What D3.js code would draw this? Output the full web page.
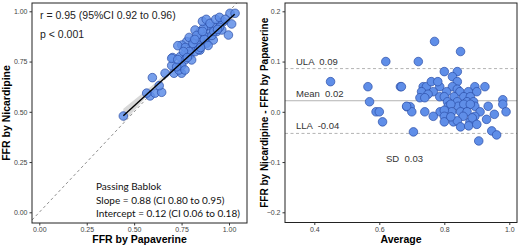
<!DOCTYPE html>
<html>
<head>
<meta charset="utf-8">
<script src="https://cdn.jsdelivr.net/npm/d3@7"></script>
<style>
  body { margin: 0; background: #fff; }
  svg { display: block; }
</style>
</head>
<body>
<svg id="chart" width="520" height="248"></svg>
<script>
// Scatter: FFR by Papaverine (x) vs FFR by Nicardipine (y)
var papaverine = [0.443, 0.596, 0.584, 0.61, 0.645, 0.632, 0.566, 0.663, 0.71, 0.75, 0.736, 0.703, 0.698, 0.742,
  1.005, 1.032, 1.014, 0.970, 0.953, 0.917, 0.891, 0.865, 0.847, 0.821, 0.900, 0.935, 0.962, 0.997,
  0.874, 0.847, 0.812, 0.777, 0.751, 0.730, 0.803, 0.838, 0.882, 0.917, 0.768, 0.794, 0.821, 0.847,
  0.742, 0.768, 0.803, 0.698, 0.751, 0.724, 0.768,
  0.86, 0.88, 0.90, 0.93, 0.95, 0.79, 0.83, 0.87, 0.91, 0.77, 0.81, 0.84, 0.89, 0.95, 0.98, 0.86, 0.79, 0.82,
  0.76, 0.78, 0.85, 0.92, 0.94, 0.73];
var nicardipine = [0.479, 0.67, 0.579, 0.593, 0.597, 0.63, 0.593, 0.692, 0.692, 0.692, 0.708, 0.77, 0.73, 0.73,
  0.990, 0.990, 0.937, 0.948, 0.943, 0.923, 0.927, 0.915, 0.899, 0.907, 0.891, 0.899, 0.907, 0.882,
  0.874, 0.866, 0.857, 0.849, 0.832, 0.829, 0.824, 0.832, 0.841, 0.857, 0.791, 0.783, 0.799, 0.807,
  0.774, 0.758, 0.758, 0.766, 0.730, 0.724, 0.708,
  0.95, 0.96, 0.94, 0.96, 0.97, 0.87, 0.88, 0.86, 0.88, 0.82, 0.84, 0.81, 0.83, 0.92, 0.96, 0.90, 0.80, 0.86,
  0.80, 0.77, 0.82, 0.90, 0.91, 0.76];

// fitted line and its grey confidence band
var fitX = [0.443, 1.03];
var fitY = [0.48, 0.985];
var bandX = [0.443, 0.6, 0.75, 0.9, 1.03];
var bandLo = [0.445, 0.612, 0.745, 0.872, 0.97];
var bandHi = [0.515, 0.635, 0.760, 0.887, 1.0];

// Bland-Altman: average (x) and difference (y)
var baAverage = [0.45, 0.565, 0.57, 0.59, 0.60, 0.61, 0.62, 0.665, 0.685, 0.695, 0.70, 0.705, 0.72, 0.906, 0.946, 0.961,
  0.77, 0.85, 0.80, 0.84, 0.825, 0.84,
  0.668, 0.735, 0.745, 0.786, 0.825, 0.894, 0.925,
  0.76, 0.78, 0.84,
  0.73, 0.766, 0.807, 0.848, 0.874, 0.9, 0.75,
  0.725, 0.74, 0.786, 0.80, 0.83, 0.86, 0.88, 0.98,
  0.81, 0.84, 0.87, 0.89, 0.98,
  0.684, 0.812, 0.843, 0.869, 0.894, 0.935, 0.82, 0.86, 0.88,
  0.74, 0.787, 0.823, 0.85, 0.87, 0.91, 0.99, 0.80,
  0.766, 0.80, 0.858, 0.894, 0.954,
  0.80, 0.828, 0.879, 0.886, 0.84,
  0.85, 0.875, 0.82, 0.90, 0.93];
var baDiff = [0.06, 0.05, 0.02, 0.0, 0.0, -0.02, 0.10, 0.05, 0.01, 0.01, 0.0, -0.04, 0.10, -0.058, -0.038, -0.046,
  0.14, 0.12, 0.08, 0.08, 0.07, 0.06,
  0.05, 0.05, 0.05, 0.05, 0.05, 0.05, 0.05,
  0.06, 0.06, 0.045,
  0.04, 0.04, 0.04, 0.04, 0.04, 0.04, 0.035,
  0.028, 0.028, 0.03, 0.03, 0.03, 0.03, 0.03, 0.024,
  0.02, 0.02, 0.02, 0.02, 0.015,
  0.011, 0.011, 0.011, 0.011, 0.011, 0.011, 0.015, 0.015, 0.015,
  0.0, 0.0, 0.0, 0.0, 0.0, 0.0, 0.0, 0.003,
  -0.009, -0.009, -0.009, -0.009, -0.005,
  -0.02, -0.02, -0.02, -0.012, -0.018,
  -0.03, -0.028, -0.01, -0.025, -0.015];

var baLimits = [
  { name: 'ULA', value: 0.086, label: '0.09', dash: true },
  { name: 'Mean', value: 0.022, label: '0.02', dash: false },
  { name: 'LLA', value: -0.043, label: '-0.04', dash: true }
];

var ticksLeft = [0, 0.25, 0.5, 0.75, 1];
var ticksRightX = [0.4, 0.6, 0.8, 1.0];
var ticksRightY = [-0.2, -0.1, 0, 0.1, 0.2];

var svg = d3.select('#chart');
var fill = '#5f8ee8', stroke = '#2b4ea6';
var baseFont = 'Liberation Sans, Arial, sans-serif';

// ---------- left panel ----------
var L = { left: 32, right: 247, top: 3, bottom: 223 };
var xL = d3.scaleLinear().domain([0, 1]).range([39.3, 229]);
var yL = d3.scaleLinear().domain([0, 1]).range([212.3, 11.3]);

var gL = svg.append('g');
gL.append('clipPath').attr('id', 'clipL').append('rect')
  .attr('x', L.left).attr('y', L.top).attr('width', L.right - L.left).attr('height', L.bottom - L.top);

var lo = xL.invert(L.left), hi = xL.invert(L.right);
gL.append('line')
  .attr('clip-path', 'url(#clipL)')
  .attr('x1', xL(lo)).attr('y1', yL(lo)).attr('x2', xL(hi)).attr('y2', yL(hi))
  .attr('stroke', '#888').attr('stroke-width', 0.9).attr('stroke-dasharray', '3,2.5');

var band = bandX.map(function (d, i) { return { x: d, lo: bandLo[i], hi: bandHi[i] }; });
gL.append('path').datum(band)
  .attr('fill', '#d0d0d0').attr('opacity', 0.8)
  .attr('d', d3.area().x(function (d) { return xL(d.x); })
    .y0(function (d) { return yL(d.lo); }).y1(function (d) { return yL(d.hi); }));

gL.selectAll('.pt').data(papaverine).enter().append('circle')
  .attr('cx', function (d) { return xL(d); })
  .attr('cy', function (d, i) { return yL(nicardipine[i]); })
  .attr('r', 4.3)
  .attr('fill', fill).attr('fill-opacity', 0.85)
  .attr('stroke', stroke).attr('stroke-width', 0.7);

gL.append('line')
  .attr('x1', xL(fitX[0])).attr('y1', yL(fitY[0])).attr('x2', xL(fitX[1])).attr('y2', yL(fitY[1]))
  .attr('stroke', '#000').attr('stroke-width', 1.4);

gL.append('rect')
  .attr('x', L.left).attr('y', L.top).attr('width', L.right - L.left).attr('height', L.bottom - L.top)
  .attr('fill', 'none').attr('stroke', '#222').attr('stroke-width', 1);

gL.append('g').attr('transform', 'translate(0,' + L.bottom + ')')
  .call(d3.axisBottom(xL).tickValues(ticksLeft).tickFormat(d3.format('.2f')).tickSize(2.5).tickPadding(2))
  .call(function (g) { g.select('.domain').remove(); });
gL.append('g').attr('transform', 'translate(' + L.left + ',0)')
  .call(d3.axisLeft(yL).tickValues(ticksLeft).tickFormat(d3.format('.2f')).tickSize(2.5).tickPadding(2))
  .call(function (g) { g.select('.domain').remove(); });

gL.append('text').attr('x', 40).attr('y', 19).text('r = 0.95 (95%CI 0.92 to 0.96)')
  .attr('font-family', baseFont).attr('font-size', 10.5).attr('fill', '#222');
gL.append('text').attr('x', 40).attr('y', 38).text('p < 0.001')
  .attr('font-family', baseFont).attr('font-size', 10.5).attr('fill', '#222');

var pbLines = ['Passing Bablok', 'Slope = 0.88 (CI 0.80 to 0.95)', 'Intercept = 0.12 (CI 0.06 to 0.18)'];
gL.selectAll('.pb').data(pbLines).enter().append('text')
  .attr('x', 96).attr('y', function (d, i) { return 190 + i * 13.5; })
  .text(function (d) { return d; })
  .attr('font-family', 'Lato, Open Sans, sans-serif').attr('font-size', 10).attr('fill', '#111');

gL.append('text').attr('x', (L.left + L.right) / 2).attr('y', 243).attr('text-anchor', 'middle')
  .text('FFR by Papaverine').attr('font-family', baseFont).attr('font-weight', 'bold').attr('font-size', 10.5);
gL.append('text').attr('transform', 'translate(10,' + (L.top + L.bottom) / 2 + ') rotate(-90)')
  .attr('text-anchor', 'middle')
  .text('FFR by Nicardipine').attr('font-family', baseFont).attr('font-weight', 'bold').attr('font-size', 10.5);

// ---------- right panel ----------
var R = { left: 285, right: 517, top: 3, bottom: 222.5 };
var xR = d3.scaleLinear().domain([0.4, 1.0]).range([314.3, 509.3]);
var yR = d3.scaleLinear().domain([-0.2, 0.2]).range([212.3, 11.3]);

var gR = svg.append('g');

gR.selectAll('.lim').data(baLimits).enter().append('line')
  .attr('x1', R.left).attr('x2', R.right)
  .attr('y1', function (d) { return yR(d.value); }).attr('y2', function (d) { return yR(d.value); })
  .attr('stroke', '#aaa').attr('stroke-width', 0.9)
  .attr('stroke-dasharray', function (d) { return d.dash ? '3,2.5' : null; });

gR.selectAll('.pt').data(baAverage).enter().append('circle')
  .attr('cx', function (d) { return xR(d); })
  .attr('cy', function (d, i) { return yR(baDiff[i]); })
  .attr('r', 4.3)
  .attr('fill', fill).attr('stroke', stroke).attr('stroke-width', 0.7);

gR.selectAll('.limtext').data(baLimits).enter().append('text')
  .attr('x', 296).attr('y', function (d) { return yR(d.value) - 4; })
  .text(function (d) { return d.name + '  ' + d.label; })
  .attr('xml:space', 'preserve')
  .attr('font-family', baseFont).attr('font-size', 9.5).attr('fill', '#333');

gR.append('text').attr('x', 386).attr('y', 162).attr('xml:space', 'preserve').text('SD  0.03')
  .attr('font-family', baseFont).attr('font-size', 9.5).attr('fill', '#333');

gR.append('rect')
  .attr('x', R.left).attr('y', R.top).attr('width', R.right - R.left).attr('height', R.bottom - R.top)
  .attr('fill', 'none').attr('stroke', '#222').attr('stroke-width', 1);

gR.append('g').attr('transform', 'translate(0,' + R.bottom + ')')
  .call(d3.axisBottom(xR).tickValues(ticksRightX).tickFormat(d3.format('.1f')).tickSize(2.5).tickPadding(2))
  .call(function (g) { g.select('.domain').remove(); });
gR.append('g').attr('transform', 'translate(' + R.left + ',0)')
  .call(d3.axisLeft(yR).tickValues(ticksRightY).tickFormat(d3.format('.1f')).tickSize(2.5).tickPadding(2))
  .call(function (g) { g.select('.domain').remove(); });

gR.append('text').attr('x', (R.left + R.right) / 2).attr('y', 243).attr('text-anchor', 'middle')
  .text('Average').attr('font-family', baseFont).attr('font-weight', 'bold').attr('font-size', 10.5);
gR.append('text').attr('transform', 'translate(268,' + (R.top + R.bottom) / 2 + ') rotate(-90)')
  .attr('text-anchor', 'middle')
  .text('FFR by Nicardipine - FFR by Papaverine').attr('font-family', baseFont).attr('font-weight', 'bold').attr('font-size', 10);

// tick styling
svg.selectAll('.tick text').attr('font-family', baseFont).attr('font-size', 7).attr('fill', '#444');
svg.selectAll('.tick line').attr('stroke', '#333');
</script>
</body>
</html>
